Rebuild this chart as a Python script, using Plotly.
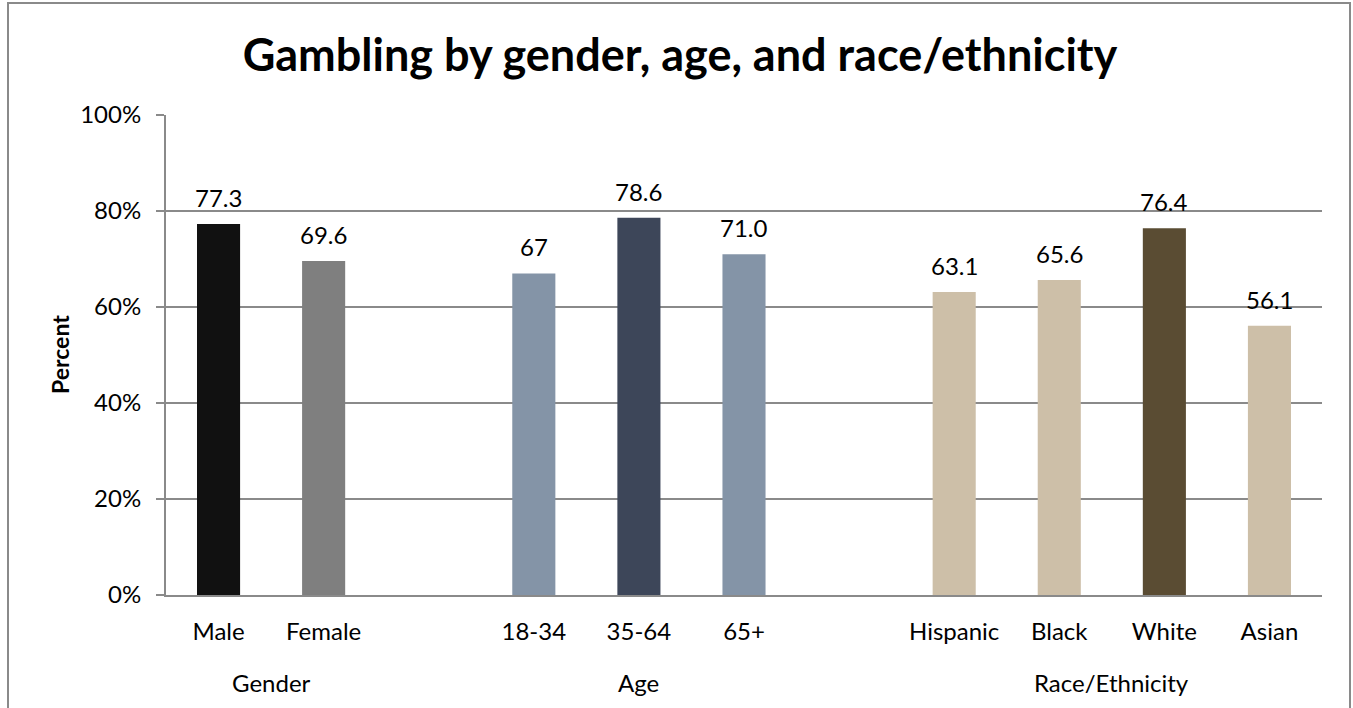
import plotly.graph_objects as go

categories = ["Male", "Female", " ", "18-34", "35-64", "65+", "  ", "Hispanic", "Black", "White", "Asian"]
values = [77.3, 69.6, None, 67.0, 78.6, 71.0, None, 63.1, 65.6, 76.4, 56.1]
labels = ["77.3", "69.6", "", "67", "78.6", "71.0", "", "63.1", "65.6", "76.4", "56.1"]
colors = ["#111111", "#7f7f7f", "#ffffff", "#8494a7", "#3d4659", "#8494a7", "#ffffff",
          "#cdbfa8", "#cdbfa8", "#5a4c33", "#cdbfa8"]
groups = ["Gender", "Age", "Race/Ethnicity"]
group_members = [["Male", "Female"], ["18-34", "35-64", "65+"], ["Hispanic", "Black", "White", "Asian"]]
y_ticks = [0, 20, 40, 60, 80, 100]
y_tick_text = ["0%", "20%", "40%", "60%", "80%", "100%"]

FONT = "Lato"
FS = 24
W, H = 1353, 708
ML, MR, MT, MB = 166, 31, 115, 113
pw, ph = W - ML - MR, H - MT - MB

fig = go.Figure()
fig.add_trace(go.Bar(
    x=categories, y=values, marker=dict(color=colors, line=dict(width=0)),
    width=0.41, hoverinfo="skip", showlegend=False,
))

# value labels
for c, v, t in zip(categories, values, labels):
    if v is None:
        continue
    fig.add_annotation(x=c, y=v, text=t, showarrow=False, yanchor="bottom",
                       yshift=10, font=dict(family=FONT, size=FS, color="#000"))

# group labels
for g, members in zip(groups, group_members):
    idx = [categories.index(m) for m in members]
    fig.add_annotation(x=sum(idx) / len(idx), xref="x", y=(595 - 682) / ph, yref="paper",
                       text=g, showarrow=False, yanchor="middle",
                       font=dict(family=FONT, size=FS, color="#000"))

# y axis title
fig.add_annotation(x=(60 - ML) / pw, xref="paper", y=0.5, yref="paper", text="<b>Percent</b>",
                   textangle=-90, showarrow=False, xanchor="center", yanchor="middle",
                   font=dict(family=FONT, size=23, color="#000"))

# outer border
fig.add_shape(type="rect", xref="paper", yref="paper",
              x0=(8 - ML) / pw, x1=(1350 - ML) / pw, y0=(595 - 740) / ph, y1=(595 - 3) / ph,
              line=dict(color="#8a8a8a", width=2), fillcolor="rgba(0,0,0,0)", layer="below")

fig.update_layout(
    width=W, height=H,
    margin=dict(l=ML, r=MR, t=MT, b=MB, autoexpand=False),
    paper_bgcolor="white", plot_bgcolor="white",
    bargap=0.59,
    title=dict(text="<b>Gambling by gender, age, and race/ethnicity</b>",
               x=680 / W, xanchor="center", y=1 - 55 / H, yanchor="middle",
               font=dict(family=FONT, size=45, color="#000")),
    font=dict(family=FONT, size=FS, color="#000"),
)
fig.update_xaxes(type="category", showline=True, linecolor="#8a8a8a", linewidth=2,
                 showgrid=False, ticks="", ticklabelstandoff=14,
                 tickfont=dict(family=FONT, size=FS, color="#000"))
fig.update_yaxes(range=[0, 100], tickvals=y_ticks, ticktext=y_tick_text,
                 showline=True, linecolor="#8a8a8a", linewidth=2,
                 showgrid=True, gridcolor="#8a8a8a", gridwidth=2,
                 ticks="outside", ticklen=8, tickcolor="#8a8a8a", tickwidth=2,
                 ticklabelstandoff=10, zeroline=False,
                 tickfont=dict(family=FONT, size=FS, color="#000"))

fig.write_html("out.html")
